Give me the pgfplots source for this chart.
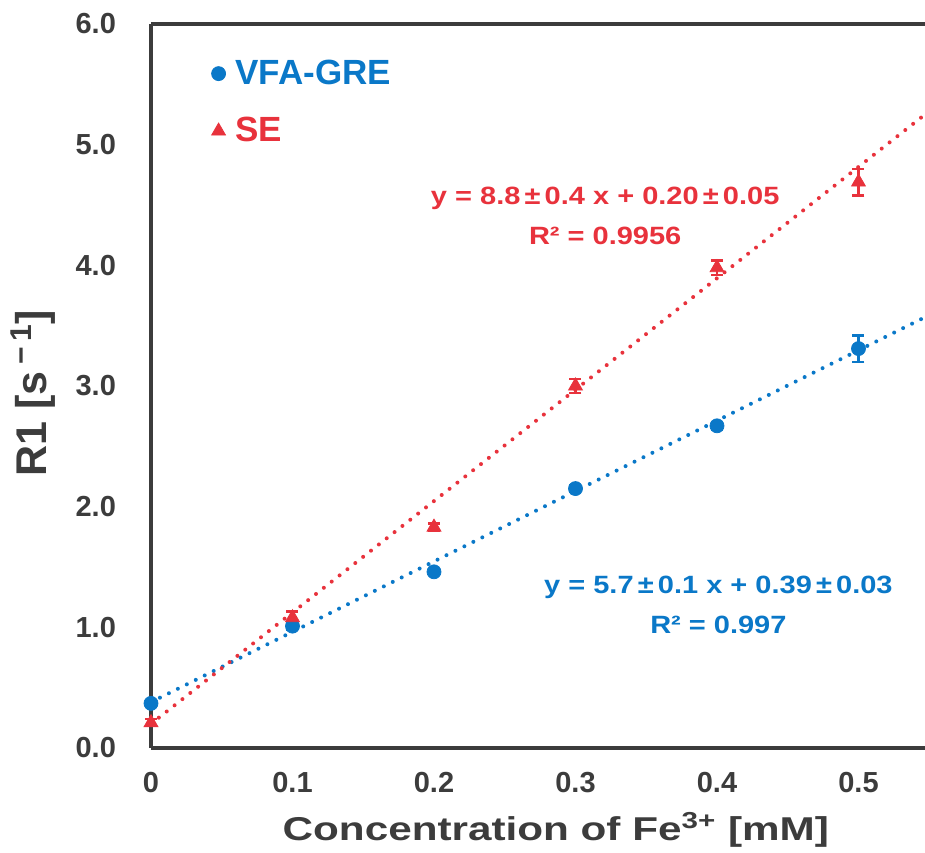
\documentclass[border=0pt]{standalone}
\usepackage{fontspec}
\setmainfont{Liberation Sans}
\newfontfamily\eqfont[FakeStretch=1.16]{Liberation Sans}
\newfontfamily\xlabfont[FakeStretch=1.28]{Liberation Sans}
\usepackage{pgfplots}
\pgfplotsset{compat=1.18}
\usetikzlibrary{calc}

\definecolor{vfablue}{HTML}{0A78C8}
\definecolor{sered}{HTML}{E8323C}
\definecolor{axgray}{HTML}{3C3C3C}

% x, y, error
\pgfplotstableread{
x    y     e
0.0  0.37  0.02
0.1  1.01  0.03
0.2  1.46  0.02
0.3  2.15  0.03
0.4  2.67  0.03
0.5  3.31  0.11
}\vfadata
\pgfplotstableread{
x    y     e
0.0  0.21  0.03
0.1  1.08  0.05
0.2  1.83  0.03
0.3  3.00  0.06
0.4  3.98  0.06
0.5  4.69  0.11
}\sedata

\begin{document}
\begin{tikzpicture}
\begin{axis}[
    scale only axis,
    width=387pt, height=362pt,
    xmin=0, xmax=0.547,
    ymin=0, ymax=6,
    axis x line=box, axis y line*=left,
    axis line style={axgray, line width=2pt},
    major tick length=0pt,
    xtick={0,0.1,0.2,0.3,0.4,0.5},
    xticklabels={0,0.1,0.2,0.3,0.4,0.5},
    ytick={0,1,2,3,4,5,6},
    /pgf/number format/assume math mode=true,
    tick label style={font=\fontsize{14.5}{16}\selectfont\bfseries, text=axgray},
    yticklabel style={/pgf/number format/fixed, /pgf/number format/fixed zerofill,
                      /pgf/number format/precision=1, xshift=-14pt},
    xticklabel style={yshift=-8.5pt},
    xlabel={\xlabfont\bfseries Concentration of Fe\textsuperscript{3+} [mM]},
    xlabel style={font=\fontsize{16.5}{18}\selectfont, text=axgray, at={(rel axis cs:0.523,-0.113)}, anchor=center},
    ylabel={\bfseries R1 [s\,\textsuperscript{−\,1}]},
    ylabel style={font=\fontsize{21.5}{24}\selectfont, text=axgray, at={(rel axis cs:-0.152,0.49)}, anchor=center},
    legend style={at={(rel axis cs:0.07,0.962)}, anchor=north west, draw=none, fill=none,
                  font=\fontsize{17.5}{19}\selectfont\bfseries, row sep=11pt},
    legend cell align=left,
    clip=false,
]
% trendlines
\addplot[forget plot, vfablue, line width=2pt, line cap=round, dash pattern=on 0pt off 5pt]
    coordinates {(0,0.38) (0.547,3.57)};
\addplot[forget plot, sered, line width=2pt, line cap=round, dash pattern=on 0pt off 5pt]
    coordinates {(0,0.20) (0.547,5.25)};
% measured points
\addplot[only marks, mark=*, color=vfablue, mark size=3.5pt,
    error bars/.cd, y dir=both, y explicit,
    error bar style={line width=1.2pt, vfablue},
    error mark options={rotate=90, mark size=3pt, line width=1.2pt, vfablue}]
    table[x=x, y=y, y error=e] {\vfadata};
\addplot[only marks, mark=triangle*, color=sered, mark size=4pt,
    error bars/.cd, y dir=both, y explicit,
    error bar style={line width=1.2pt, sered},
    error mark options={rotate=90, mark size=3pt, line width=1.2pt, sered}]
    table[x=x, y=y, y error=e] {\sedata};
\legend{\hspace{3pt}\textcolor{vfablue}{VFA-GRE}, \hspace{3pt}\textcolor{sered}{SE}}
% fit equations
\node[text=sered, align=center, font=\eqfont\bfseries\fontsize{12.5}{20}\selectfont]
    at (axis cs:0.321,4.41) {y = 8.8\,±\,0.4 x + 0.20\,±\,0.05\\R² = 0.9956};
\node[text=vfablue, align=center, font=\eqfont\bfseries\fontsize{12.5}{20}\selectfont]
    at (axis cs:0.401,1.185) {y = 5.7\,±\,0.1 x + 0.39\,±\,0.03\\R² = 0.997};
\coordinate (bl) at (rel axis cs:0,0);
\coordinate (tr) at (rel axis cs:1,1);
\end{axis}
\pgfresetboundingbox
\path[use as bounding box] ($(bl)+(-75.5pt,-52pt)$) rectangle ($(tr)+(0pt,12pt)$);
\end{tikzpicture}
\end{document}
